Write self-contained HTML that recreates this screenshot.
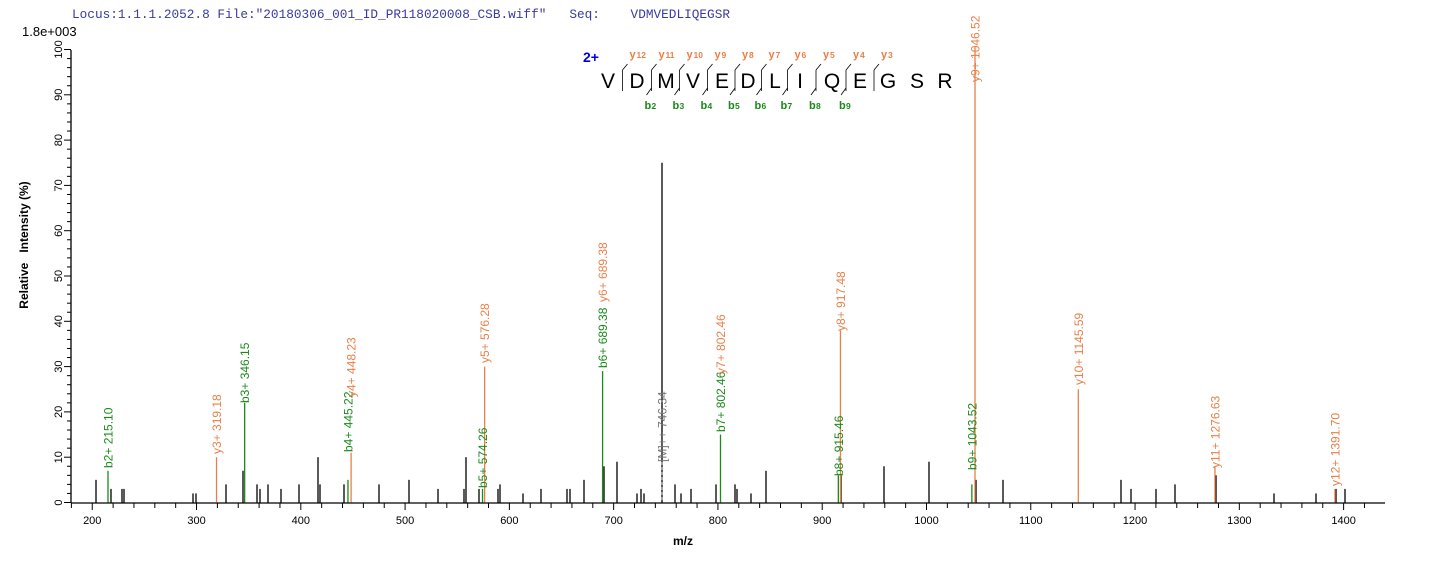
<!DOCTYPE html>
<html><head><meta charset="utf-8"><style>
body{margin:0;background:#fff;width:1436px;height:562px;overflow:hidden}
svg{display:block}
text{font-family:"Liberation Sans",Arial,sans-serif}
</style></head><body>
<svg width="1436" height="562" xmlns="http://www.w3.org/2000/svg">
<text x="72" y="18" xml:space="preserve" style="font-family:'Liberation Mono',monospace;white-space:pre" font-size="12.75" fill="#3a3aa0">Locus:1.1.1.2052.8 File:"20180306_001_ID_PR118020008_CSB.wiff"   Seq:    VDMVEDLIQEGSR</text>
<text x="22" y="36" font-size="13" fill="#000">1.8e+003</text>
<g id="axes" stroke="#000" stroke-width="1.3" fill="none">
<line x1="71" y1="50" x2="71" y2="503"/>
<line x1="71" y1="503" x2="1385" y2="503"/>
</g>
<g id="ticks" stroke="#000" stroke-width="1"></g>
<g id="peaks"></g>
<g id="labels"></g>
<text transform="translate(28,245) rotate(-90)" text-anchor="middle" font-size="12" font-weight="bold" xml:space="preserve" style="white-space:pre">Relative   Intensity (%)</text>
<text x="683" y="545" text-anchor="middle" font-size="12" font-weight="bold">m/z</text>
<text x="583" y="62" font-size="14" font-weight="bold" fill="#0000dd">2+</text>
<g id="pep"></g>
</svg>
<script>
const NS="http://www.w3.org/2000/svg";
function el(p,t,a,txt){const e=document.createElementNS(NS,t);for(const k in a)e.setAttribute(k,a[k]);if(txt!==undefined)e.textContent=txt;document.getElementById(p).appendChild(e);return e;}
const B=502.5,S=4.53;
const X=m=>92.25+(m-200)*1.0428;
for(let v=0;v<=100;v+=2){const y=B-v*S;const maj=v%10==0;el('ticks','line',{x1:maj?64:67,y1:y,x2:71,y2:y});
 if(maj)el('labels','text',{transform:`translate(62,${y}) rotate(-90)`,'text-anchor':'middle','font-size':'11'},v);}
for(let m=180;m<=1420;m+=20){const x=X(m);if(x<71||x>1385)continue;el('ticks','line',{x1:x,y1:503,x2:x,y2:m%100==0?510:508});
 if(m%100==0)el('labels','text',{x:x,y:524,'text-anchor':'middle','font-size':'11'},m);}
const bk=[[96,5],[111,3],[122,3],[124,3],[193,2],[196,2],[226,4],[243,7],[257,4],[260,3],[268,4],[281,3],[299,4],[318,10],[320,4],[344,4],[379,4],[409,5],[438,3],[464,3],[466,10],[479,3],[498,3],[500,4],[523,2],[541,3],[567,3],[570,3],[584,5],[604,8],[617,9],[637,2],[641,3],[644,2],[662,75],[675,4],[681,2],[691,3],[716,4],[735,4],[737,3],[751,2],[766,7],[841,6],[884,8],[929,9],[976,5],[1003,5],[1121,5],[1131,3],[1156,3],[1175,4],[1216,6],[1274,2],[1316,2],[1336,3],[1345,3]];
bk.forEach(([x,p])=>el('peaks','line',{x1:x,y1:B,x2:x,y2:B-p*S,stroke:'#000','stroke-width':1.3}));
const G='#1a8a1a',O='#e8804a';
const col=[[215.10,7,G],[319.18,10,O],[346.15,22,G],[445.22,5,G],[448.23,11,O],[574.26,3,G],[576.28,30,O],[689.38,29,G],[802.46,15,G],[915.46,6,G],[917.48,38,O],[1043.52,4,G],[1046.52,100.5,O],[1145.59,25,O],[1276.63,8,O],[1391.70,3,O]];
col.forEach(([m,p,c])=>{const x=X(m);el('peaks','line',{x1:x,y1:B,x2:x,y2:B-p*S,stroke:c,'stroke-width':1.3})});
function lab(m,y,c,t){const x=X(m);el('labels','text',{transform:`translate(${x+4.5},${y}) rotate(-90)`,'font-size':'12',fill:c},t);}
lab(215.10,468,G,'b2+ 215.10');lab(319.18,454,O,'y3+ 319.18');lab(346.15,403,G,'b3+ 346.15');
lab(445.22,452,G,'b4+ 445.22');lab(448.23,397,O,'y4+ 448.23');lab(574.26,488,G,'b5+ 574.26');
lab(576.28,363,O,'y5+ 576.28');lab(689.38,368,G,'b6+ 689.38');lab(689.38,302,O,'y6+ 689.38');
lab(746.34,462,'#777','[M]++ 746.34');lab(802.46,432,G,'b7+ 802.46');lab(802.46,374,O,'y7+ 802.46');
lab(915.46,476,G,'b8+ 915.46');lab(917.48,331,O,'y8+ 917.48');lab(1043.52,470,G,'b9+ 1043.52');
lab(1046.52,82,O,'y9+ 1046.52');lab(1145.59,385,O,'y10+ 1145.59');lab(1276.63,468,O,'y11+ 1276.63');lab(1391.70,486,O,'y12+ 1391.70');
el('peaks','line',{x1:X(746.34),y1:462,x2:X(746.34),y2:500,stroke:'#999','stroke-dasharray':'3,2'});
const L='VDMVEDLIQEGSR'.split(''),LX=[608,637,666,693,722,748,775,800,832,860,888,917,945];
L.forEach((c,i)=>el('pep','text',{x:LX[i],y:88,'text-anchor':'middle','font-size':'21'},c));
const yl=['12','11','10','9','8','7','6','5','4','3'];
for(let i=0;i<12;i++){const x=(LX[i]+LX[i+1])/2;
 if(i<10){el('pep','line',{x1:x,y1:70,x2:x,y2:91,stroke:'#000','stroke-width':0.8});el('pep','line',{x1:x,y1:70,x2:x+5,y2:64,stroke:'#000','stroke-width':0.8});
  el('pep','text',{x:x+7,y:58,'font-size':'11','font-weight':'bold',fill:O},'y');
  el('pep','text',{x:x+14,y:58,'font-size':'8.5','font-weight':'bold',fill:O},yl[i]);}
 if(i>=1&&i<=8){el('pep','line',{x1:x,y1:88,x2:x-5,y2:95,stroke:'#000','stroke-width':0.8});
  el('pep','text',{x:x-7,y:109,'font-size':'11','font-weight':'bold',fill:G},'b');
  el('pep','text',{x:x,y:109,'font-size':'8.5','font-weight':'bold',fill:G},String(i+1));}
}
</script>
</body></html>
